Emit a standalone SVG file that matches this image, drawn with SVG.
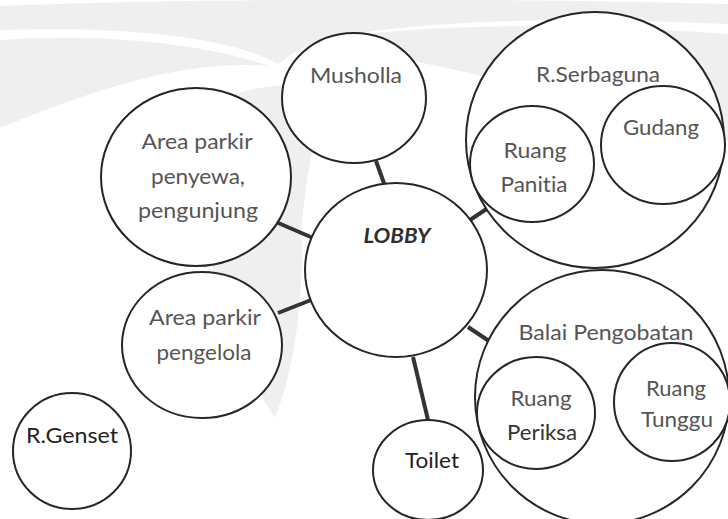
<svg xmlns="http://www.w3.org/2000/svg" width="728" height="519" viewBox="0 0 728 519">
  <style>
    .node { fill: #ffffff; stroke: #262626; stroke-width: 2; }
    .link { stroke: #333333; stroke-width: 4; stroke-linecap: butt; }
    .link-thin { stroke: #444444; stroke-width: 3; }
    .lbl { font-family: Lato, "Open Sans", "Liberation Sans", sans-serif; font-size: 21px; fill: #555555; text-anchor: middle; font-variant-ligatures: none; }
    .dark { fill: #222222; }
    .lobby { font-weight: bold; font-style: italic; fill: #2e2e2e; }
    .mark { fill: #efefef; }
  </style>

  <rect width="728" height="519" fill="#ffffff"/>

  <!-- faint background emblem -->
  <g id="watermark">
    <path class="mark" d="M0,6 C200,-2 520,-2 728,4 L728,24 C560,16 420,20 320,40 C300,48 288,56 278,64 C230,36 120,26 0,30 Z"/>
    <path class="mark" d="M0,40 C90,34 190,40 270,66 C200,60 120,78 0,128 Z"/>
    <path class="mark" d="M300,44 C420,20 600,24 728,34 L728,140 C680,118 620,104 560,96 C500,80 430,60 300,44 Z"/>
    <path class="mark" d="M228,96 C270,82 310,82 330,92 C312,140 300,200 302,260 C300,330 290,380 275,418 C245,370 215,320 212,260 C208,200 212,140 228,96 Z"/>
  </g>

  <!-- connectors -->
  <g id="connectors">
    <line class="link" x1="376" y1="161" x2="385" y2="186"/>
    <line class="link" x1="276" y1="222" x2="313" y2="238"/>
    <line class="link" x1="278" y1="313" x2="311" y2="300"/>
    <line class="link" x1="470" y1="220" x2="488" y2="208"/>
    <line class="link" x1="468" y1="327" x2="489" y2="341"/>
    <line class="link" x1="413" y1="357" x2="428" y2="420"/>
    <line class="link-thin" x1="593" y1="155" x2="602" y2="155"/>
    <line class="link-thin" x1="594" y1="406" x2="615" y2="406"/>
  </g>

  <g id="r-serbaguna">
    <ellipse class="node" cx="595" cy="140" rx="129" ry="128"/>
    <text class="lbl" x="598" y="82" textLength="124" lengthAdjust="spacingAndGlyphs">R.Serbaguna</text>
  </g>
  <g id="ruang-panitia">
    <ellipse class="node" cx="532" cy="164" rx="62" ry="58"/>
    <text class="lbl" x="535" y="158" textLength="63" lengthAdjust="spacingAndGlyphs">Ruang</text>
    <text class="lbl" x="534" y="192" textLength="67" lengthAdjust="spacingAndGlyphs">Panitia</text>
  </g>
  <g id="gudang">
    <ellipse class="node" cx="663" cy="145" rx="62" ry="59"/>
    <text class="lbl" x="661" y="135" textLength="76" lengthAdjust="spacingAndGlyphs">Gudang</text>
  </g>

  <g id="balai-pengobatan">
    <ellipse class="node" cx="602" cy="397" rx="127" ry="127"/>
    <text class="lbl" x="606" y="340" textLength="175" lengthAdjust="spacingAndGlyphs">Balai Pengobatan</text>
  </g>
  <g id="ruang-periksa">
    <ellipse class="node" cx="536" cy="413" rx="59" ry="56"/>
    <text class="lbl" x="541" y="406" textLength="61" lengthAdjust="spacingAndGlyphs">Ruang</text>
    <text class="lbl" x="542" y="440" textLength="70" lengthAdjust="spacingAndGlyphs" style="fill:#333333">Periksa</text>
  </g>
  <g id="ruang-tunggu">
    <ellipse class="node" cx="672" cy="402" rx="58" ry="59"/>
    <text class="lbl" x="676" y="396" textLength="60" lengthAdjust="spacingAndGlyphs">Ruang</text>
    <text class="lbl" x="677" y="427" textLength="72" lengthAdjust="spacingAndGlyphs">Tunggu</text>
  </g>

  <g id="musholla">
    <ellipse class="node" cx="354" cy="98" rx="72" ry="65"/>
    <text class="lbl" x="356" y="83" textLength="92" lengthAdjust="spacingAndGlyphs">Musholla</text>
  </g>

  <g id="parkir-penyewa">
    <ellipse class="node" cx="196" cy="177" rx="95" ry="89"/>
    <text class="lbl" x="197" y="149" textLength="111" lengthAdjust="spacingAndGlyphs">Area parkir</text>
    <text class="lbl" x="198" y="184" textLength="94" lengthAdjust="spacingAndGlyphs">penyewa,</text>
    <text class="lbl" x="198" y="218" textLength="120" lengthAdjust="spacingAndGlyphs">pengunjung</text>
  </g>

  <g id="parkir-pengelola">
    <ellipse class="node" cx="202" cy="345" rx="80" ry="73"/>
    <text class="lbl" x="205" y="325" textLength="112" lengthAdjust="spacingAndGlyphs">Area parkir</text>
    <text class="lbl" x="204" y="360" textLength="95" lengthAdjust="spacingAndGlyphs">pengelola</text>
  </g>

  <g id="lobby">
    <ellipse class="node" cx="396" cy="270" rx="91" ry="87"/>
    <text class="lbl lobby" x="397" y="243" textLength="67" lengthAdjust="spacingAndGlyphs">LOBBY</text>
  </g>

  <g id="toilet">
    <ellipse class="node" cx="428" cy="470" rx="55" ry="50"/>
    <text class="lbl dark" x="432" y="468" textLength="54" lengthAdjust="spacingAndGlyphs">Toilet</text>
  </g>

  <g id="r-genset">
    <ellipse class="node" cx="72" cy="451" rx="59" ry="58"/>
    <text class="lbl dark" x="72" y="443" textLength="92" lengthAdjust="spacingAndGlyphs">R.Genset</text>
  </g>
</svg>
